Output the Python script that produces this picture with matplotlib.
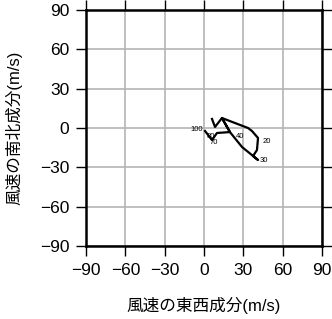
import matplotlib
matplotlib.use('Agg')
import matplotlib.pyplot as plt

plt.rcParams['font.family'] = ['Liberation Sans', 'Noto Sans CJK JP', 'DejaVu Sans']

# hodograph path (u, v) in m/s
u = [6.1, 8.4, 13.7, 33.6, 36.6, 41.2, 40.4, 37.4, 41.2, 29.0, 19.8, 13.7, 19.8, 9.9, 6.1, 0.8]
v = [6.9, 0.8, 7.6, 0.0, -2.3, -7.6, -16.8, -21.4, -24.4, -14.5, -3.1, 7.6, -3.1, -3.8, -9.2, -2.3]

# level labels
label_text = ['100', '80', '70', '40', '20', '30']
label_u = [-1.0, 2.0, 4.0, 24.5, 45.0, 42.5]
label_v = [-1.5, -6.3, -11.0, -6.5, -10.0, -24.8]

ticks = [-90, -60, -30, 0, 30, 60, 90]

fig = plt.figure(figsize=(3.32, 3.19), dpi=100)
ax = fig.add_axes([86 / 332, 1 - 246 / 319, 236 / 332, 236 / 319])

ax.plot(u, v, color='black', lw=1.6, zorder=3)
for t, x, y in zip(label_text, label_u, label_v):
    ha = 'right' if t == '100' else 'left'
    ax.text(x, y, t, fontsize=5.5, ha=ha, va='center', zorder=4)

ax.set_xlim(-90, 90)
ax.set_ylim(-90, 90)
ax.set_xticks(ticks)
ax.set_yticks(ticks)
ax.set_xticklabels([str(t).replace('-', '\u2212') for t in ticks])
ax.set_yticklabels([str(t).replace('-', '\u2212') for t in ticks])
ax.grid(True, color='#b4b4b4', lw=1.2)
ax.set_axisbelow(True)

for s in ax.spines.values():
    s.set_linewidth(1.8)
ax.tick_params(direction='out', length=7, width=1.0, labelsize=12.5,
               top=True, right=True, pad=5)

ax.set_xlabel('風速の東西成分(m/s)', fontsize=12)
ax.set_ylabel('風速の南北成分(m/s)', fontsize=12)
ax.xaxis.set_label_coords(0.5, -0.216)
ax.yaxis.set_label_coords(-0.271, 0.5)

fig.savefig('out.png', dpi=100)
